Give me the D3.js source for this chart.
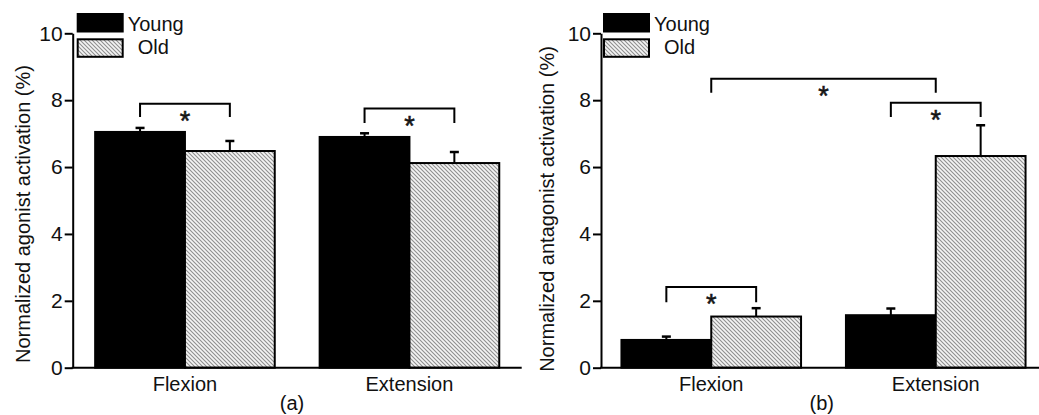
<!DOCTYPE html>
<html><head><meta charset="utf-8">
<script src="https://cdn.jsdelivr.net/npm/d3@7"></script>
<style>
html,body{margin:0;padding:0;background:#fff;}
text{font-family:"Liberation Sans",Arial,sans-serif;fill:#111;}
</style></head>
<body>
<svg id="chart" width="1039" height="415"></svg>
<script>
// ---- data ----
const categories = ["Flexion", "Extension"];
const groups = ["Young", "Old"];
const yTicks = [0, 2, 4, 6, 8, 10];

const agonistYoung = [7.05, 6.90];
const agonistYoungErr = [0.12, 0.11];
const agonistOld = [6.48, 6.12];
const agonistOldErr = [0.30, 0.33];

const antagonistYoung = [0.83, 1.57];
const antagonistYoungErr = [0.10, 0.20];
const antagonistOld = [1.53, 6.33];
const antagonistOldErr = [0.25, 0.92];

// significance brackets: [category, group] endpoints, top value, leg value
const agonistBrackets = [
  {from: ["Flexion", "Young"], to: ["Flexion", "Old"], top: 7.89, leg: 7.50},
  {from: ["Extension", "Young"], to: ["Extension", "Old"], top: 7.75, leg: 7.32}
];
const antagonistBrackets = [
  {from: ["Flexion", "Young"], to: ["Flexion", "Old"], top: 2.41, leg: 1.96},
  {from: ["Flexion", null], to: ["Extension", null], top: 8.64, leg: 8.22},
  {from: ["Extension", "Young"], to: ["Extension", "Old"], top: 7.92, leg: 7.50}
];

const svg = d3.select("#chart");
svg.append("rect").attr("width", 1039).attr("height", 415).attr("fill", "#fff");

const defs = svg.append("defs");
const pat = defs.append("pattern").attr("id", "hatch").attr("patternUnits", "userSpaceOnUse")
  .attr("width", 4).attr("height", 4);
pat.append("rect").attr("width", 4).attr("height", 4).attr("fill", "#f4f4f4");
pat.append("path").attr("d", "M-1,-1 L5,5 M-1,3 L1,5 M3,-1 L5,1")
  .attr("stroke", "#8f8f8f").attr("stroke-width", 1.1);

const fills = {Young: "#000", Old: "url(#hatch)"};
const FS = 20;

function panel(o) {
  const g = svg.append("g");
  const y = d3.scaleLinear().domain([0, 10]).range([367.7, 33.3]);
  const x0 = d3.scaleBand().domain(categories).range(o.bandRange).paddingInner(0.2).paddingOuter(0.1);
  const x1 = d3.scaleBand().domain(groups).range([0, x0.bandwidth()]);

  const rows = [];
  categories.forEach((c, i) => {
    rows.push({cat: c, grp: "Young", v: o.young[i], e: o.youngErr[i]});
    rows.push({cat: c, grp: "Old", v: o.old[i], e: o.oldErr[i]});
  });
  const cx = d => x0(d.cat) + x1(d.grp) + x1.bandwidth() / 2;

  // error bars (upward)
  const eb = g.append("g").attr("stroke", "#000");
  eb.selectAll("line.v").data(rows).join("line").attr("class", "v")
    .attr("x1", cx).attr("x2", cx).attr("y1", d => y(d.v)).attr("y2", d => y(d.v + d.e))
    .attr("stroke-width", 2);
  eb.selectAll("line.c").data(rows).join("line").attr("class", "c")
    .attr("x1", d => cx(d) - 4.5).attr("x2", d => cx(d) + 4.5)
    .attr("y1", d => y(d.v + d.e)).attr("y2", d => y(d.v + d.e))
    .attr("stroke-width", 2.5);

  // bars
  g.append("g").selectAll("rect").data(rows).join("rect")
    .attr("x", d => x0(d.cat) + x1(d.grp))
    .attr("width", x1.bandwidth())
    .attr("y", d => y(d.v))
    .attr("height", d => y(0) - y(d.v))
    .attr("fill", d => fills[d.grp])
    .attr("stroke", "#000").attr("stroke-width", 2);

  // y axis
  const ax = g.append("g").attr("transform", `translate(${o.axisX},0)`)
    .call(d3.axisLeft(y).tickValues(yTicks).tickSize(8).tickSizeOuter(0).tickPadding(2));
  ax.select(".domain").attr("stroke-width", 2).attr("stroke", "#000");
  ax.selectAll(".tick line").attr("stroke-width", 2).attr("stroke", "#000");
  ax.selectAll(".tick text").attr("font-size", 21).attr("font-family", "Liberation Sans, Arial, sans-serif").attr("fill", "#111");

  // x axis line
  g.append("line").attr("x1", o.axisX - 1).attr("x2", o.xEnd)
    .attr("y1", y(0)).attr("y2", y(0)).attr("stroke", "#000").attr("stroke-width", 2);

  // category labels
  g.selectAll("text.cat").data(categories).join("text").attr("class", "cat")
    .attr("x", c => x0(c) + x0.bandwidth() / 2).attr("y", 391)
    .attr("text-anchor", "middle").attr("font-size", FS).text(c => c);

  // panel label
  g.append("text").attr("x", o.panelX).attr("y", 410).attr("text-anchor", "middle")
    .attr("font-size", FS).text(o.panelLabel);

  // y label
  g.append("text").attr("transform", `translate(${o.yLabelX},${o.yLabelY}) rotate(-90)`)
    .attr("text-anchor", "middle").attr("dominant-baseline", "central")
    .attr("font-size", FS).text(o.yLabel);

  // brackets
  const bx = ([c, grp]) => grp ? x0(c) + x1(grp) + x1.bandwidth() / 2 : x0(c) + x0.bandwidth() / 2;
  const br = g.append("g");
  br.selectAll("path").data(o.brackets).join("path")
    .attr("d", b => `M${bx(b.from)},${y(b.leg)} V${y(b.top)} H${bx(b.to)} V${y(b.leg)}`)
    .attr("fill", "none").attr("stroke", "#000").attr("stroke-width", 2);
  br.selectAll("text").data(o.brackets).join("text")
    .attr("x", b => (bx(b.from) + bx(b.to)) / 2).attr("y", b => y(b.top) + 26)
    .attr("text-anchor", "middle").attr("font-size", 27).attr("fill", "#222")
    .attr("stroke", "#222").attr("stroke-width", 0.6).text("*");

  // legend
  const lg = g.append("g");
  const ly = [14, 39.3];
  groups.forEach((grp, i) => {
    lg.append("rect").attr("x", o.legX).attr("y", ly[i]).attr("width", 45).attr("height", 17.5)
      .attr("fill", fills[grp]).attr("stroke", "#000").attr("stroke-width", 2);
  });
  lg.append("text").attr("x", o.legX + 50).attr("y", 30.5).attr("font-size", FS).text(groups[0]);
  lg.append("text").attr("x", o.legX + 60).attr("y", 54).attr("font-size", FS).text(groups[1]);
}

panel({
  axisX: 72.7, bandRange: [72.7, 521.7], xEnd: 521.7,
  young: agonistYoung, youngErr: agonistYoungErr, old: agonistOld, oldErr: agonistOldErr,
  brackets: agonistBrackets, panelLabel: "(a)", panelX: 292,
  yLabel: "Normalized agonist activation (%)", yLabelX: 23, yLabelY: 214, legX: 77.7
});
panel({
  axisX: 601, bandRange: [599, 1048], xEnd: 1039,
  young: antagonistYoung, youngErr: antagonistYoungErr, old: antagonistOld, oldErr: antagonistOldErr,
  brackets: antagonistBrackets, panelLabel: "(b)", panelX: 821.7,
  yLabel: "Normalized antagonist activation (%)", yLabelX: 547, yLabelY: 209, legX: 604
});
</script>
</body></html>
